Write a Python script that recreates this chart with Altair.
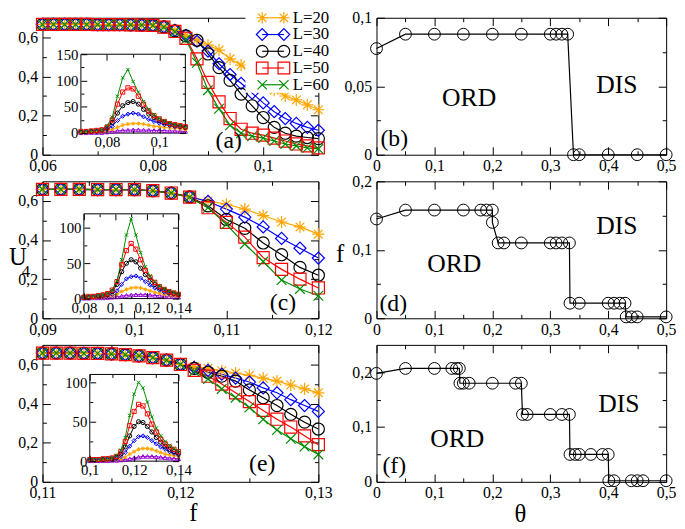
import altair as alt
import pandas as pd

FONT = "Liberation Serif"

# ---------------- series definitions ----------------
SERIES = ["L=10", "L=20", "L=30", "L=40", "L=50", "L=60"]
COLORS = ["#9400D3", "#FFA500", "#0000FF", "#000000", "#FF0000", "#008B00"]
STAR = "M-1,0L1,0M0,-1L0,1M-0.72,-0.72L0.72,0.72M-0.72,0.72L0.72,-0.72"
XMARK = "M-0.8,-0.8L0.8,0.8M-0.8,0.8L0.8,-0.8"
SHAPES = ["triangle-up", STAR, "diamond", "circle", "square", XMARK]
LEGEND_SERIES = ["L=20", "L=30", "L=40", "L=50", "L=60"]

# ---------------- panel (a): U4 vs f ----------------
A_X = [0.060, 0.062, 0.064, 0.066, 0.068, 0.070, 0.072, 0.074, 0.076, 0.078, 0.080, 0.082, 0.084,
       0.086, 0.088, 0.090, 0.092, 0.094, 0.096, 0.098, 0.100, 0.102, 0.104, 0.106, 0.108, 0.110]
A_L20 = [0.666, 0.666, 0.666, 0.666, 0.666, 0.665, 0.665, 0.665, 0.664, 0.663, 0.661, 0.655, 0.636,
         0.610, 0.588, 0.560, 0.535, 0.490, 0.458, 0.420, 0.375, 0.330, 0.300, 0.280, 0.255, 0.230]
A_L30 = [0.666, 0.666, 0.666, 0.666, 0.666, 0.665, 0.665, 0.665, 0.664, 0.663, 0.661, 0.654, 0.635,
         0.610, 0.580, 0.530, 0.465, 0.410, 0.365, 0.315, 0.265, 0.220, 0.185, 0.160, 0.140, 0.125]
A_L40 = [0.666, 0.666, 0.666, 0.666, 0.666, 0.665, 0.665, 0.665, 0.664, 0.663, 0.661, 0.653, 0.633,
         0.607, 0.585, 0.515, 0.445, 0.380, 0.310, 0.250, 0.190, 0.140, 0.110, 0.095, 0.088, 0.082]
A_L50 = [0.666, 0.666, 0.666, 0.666, 0.666, 0.665, 0.665, 0.665, 0.664, 0.663, 0.661, 0.652, 0.630,
         0.595, 0.490, 0.370, 0.270, 0.185, 0.130, 0.110, 0.100, 0.085, 0.070, 0.055, 0.045, 0.035]
A_L60 = [0.666, 0.666, 0.666, 0.666, 0.666, 0.665, 0.665, 0.665, 0.664, 0.663, 0.660, 0.652, 0.628,
         0.590, 0.470, 0.330, 0.235, 0.150, 0.110, 0.095, 0.085, 0.070, 0.055, 0.045, 0.035, 0.030]

# inset (a): susceptibility
AI_X = [0.070, 0.072, 0.074, 0.076, 0.078, 0.080, 0.082, 0.084, 0.086, 0.088, 0.090,
        0.092, 0.094, 0.096, 0.098, 0.100, 0.102, 0.104, 0.106, 0.108, 0.110]
AI_L10 = [0.5, 0.5, 1, 1, 1, 2, 3, 4, 5, 5.5, 6, 6, 5.5, 5.5, 5, 5, 4.5, 4, 4, 3.5, 3]
AI_L20 = [1, 1, 2, 2, 3, 4, 7, 11, 15, 17, 18, 18, 17, 15, 13, 12, 11, 10, 9, 8, 7]
AI_L30 = [2, 2, 3, 3, 4, 7, 13, 24, 32, 36, 38, 36, 31, 26, 22, 19, 16, 14, 12, 11, 10]
AI_L40 = [2, 3, 3, 4, 6, 10, 20, 38, 52, 58, 60, 55, 45, 36, 29, 24, 20, 17, 15, 13, 11]
AI_L50 = [3, 3, 4, 5, 6, 11, 25, 55, 78, 86, 84, 70, 55, 42, 33, 27, 22, 18, 16, 14, 12]
AI_L60 = [3, 3, 4, 5, 6, 14, 30, 70, 105, 121, 98, 78, 60, 45, 35, 28, 23, 19, 16, 14, 12]

# ---------------- panel (c) ----------------
C_X = [0.090, 0.092, 0.094, 0.096, 0.098, 0.100, 0.102, 0.104, 0.106, 0.108, 0.110, 0.112, 0.114,
       0.116, 0.118, 0.120]
C_L20 = [0.659, 0.659, 0.659, 0.658, 0.658, 0.657, 0.652, 0.641, 0.621, 0.600, 0.583, 0.558, 0.525,
         0.492, 0.467, 0.430]
C_L30 = [0.659, 0.659, 0.659, 0.658, 0.658, 0.657, 0.652, 0.641, 0.621, 0.597, 0.558, 0.517, 0.467,
         0.408, 0.358, 0.308]
C_L40 = [0.659, 0.659, 0.659, 0.658, 0.658, 0.657, 0.652, 0.640, 0.620, 0.575, 0.505, 0.460, 0.385,
         0.325, 0.260, 0.220]
C_L50 = [0.659, 0.659, 0.659, 0.658, 0.658, 0.657, 0.652, 0.640, 0.619, 0.565, 0.490, 0.415, 0.310,
         0.250, 0.200, 0.155]
C_L60 = [0.659, 0.659, 0.659, 0.658, 0.658, 0.657, 0.652, 0.640, 0.618, 0.565, 0.480, 0.380, 0.290,
         0.195, 0.150, 0.115]

CI_X = [0.080, 0.083, 0.086, 0.089, 0.092, 0.095, 0.098, 0.101, 0.104, 0.107, 0.110,
        0.113, 0.116, 0.119, 0.122, 0.125, 0.128, 0.131, 0.134, 0.137, 0.140]
CI_L10 = [0.5, 0.5, 1, 1, 1, 1.5, 2, 2.5, 3.5, 4.5, 5, 5.5, 5.5, 5.5, 5, 4.5, 4, 3.5, 3, 2.5, 2]
CI_L20 = [1, 1, 1, 2, 2, 3, 4, 6, 10, 13, 15, 15.5, 15, 13, 11, 9, 7.5, 6, 5, 4, 3.5]
CI_L30 = [1, 2, 2, 3, 3, 4, 6, 11, 20, 28, 31, 32, 29, 24, 19, 15, 12, 9, 7, 6, 5]
CI_L40 = [2, 2, 3, 4, 5, 6, 10, 20, 38, 50, 55, 52, 43, 34, 26, 20, 15, 12, 9, 7, 6]
CI_L50 = [2, 3, 3, 4, 5, 7, 12, 24, 48, 68, 78, 70, 55, 40, 30, 23, 17, 13, 10, 8, 6]
CI_L60 = [2, 3, 3, 4, 5, 7, 12, 25, 55, 90, 113, 90, 65, 45, 32, 24, 18, 14, 11, 9, 7]

# ---------------- panel (e) ----------------
E_X = [0.110, 0.111, 0.112, 0.113, 0.114, 0.115, 0.116, 0.117, 0.118, 0.119, 0.120,
       0.121, 0.122, 0.123, 0.124, 0.125, 0.126, 0.127, 0.128, 0.129, 0.130]
E_L20 = [0.658, 0.658, 0.658, 0.657, 0.656, 0.654, 0.650, 0.644, 0.635, 0.622, 0.600,
         0.590, 0.580, 0.568, 0.556, 0.544, 0.530, 0.515, 0.495, 0.475, 0.455]
E_L30 = [0.658, 0.658, 0.658, 0.657, 0.656, 0.654, 0.650, 0.644, 0.635, 0.622, 0.600,
         0.585, 0.570, 0.550, 0.530, 0.510, 0.480, 0.455, 0.420, 0.390, 0.360]
E_L40 = [0.658, 0.658, 0.658, 0.657, 0.656, 0.654, 0.650, 0.644, 0.635, 0.622, 0.600,
         0.580, 0.560, 0.540, 0.515, 0.470, 0.430, 0.390, 0.345, 0.305, 0.270]
E_L50 = [0.658, 0.658, 0.658, 0.657, 0.656, 0.654, 0.650, 0.644, 0.635, 0.622, 0.600,
         0.570, 0.540, 0.500, 0.455, 0.410, 0.365, 0.320, 0.280, 0.235, 0.190]
E_L60 = [0.658, 0.658, 0.658, 0.657, 0.656, 0.654, 0.650, 0.644, 0.635, 0.622, 0.600,
         0.565, 0.525, 0.475, 0.430, 0.380, 0.320, 0.265, 0.220, 0.180, 0.140]

EI_X = [0.100, 0.102, 0.104, 0.106, 0.108, 0.110, 0.112, 0.114, 0.116, 0.118, 0.120,
        0.122, 0.124, 0.126, 0.128, 0.130, 0.132, 0.134, 0.136, 0.138, 0.140]
EI_L10 = [0.5, 0.5, 0.5, 0.5, 0.5, 1, 1, 1.5, 2, 3, 4, 5, 6, 6, 6, 5.5, 5, 4.5, 4, 3.5, 3]
EI_L20 = [1, 1, 1, 1, 1, 2, 2, 3, 5, 9, 12, 15, 16, 16, 15, 13, 11, 9, 8, 7, 6]
EI_L30 = [1, 1, 1, 2, 2, 2, 3, 6, 11, 19, 26, 31, 32, 30, 26, 22, 18, 15, 12, 10, 8]
EI_L40 = [2, 2, 2, 2, 3, 3, 5, 9, 18, 32, 44, 50, 49, 44, 37, 30, 24, 19, 15, 12, 10]
EI_L50 = [2, 2, 2, 3, 3, 4, 6, 12, 25, 45, 63, 72, 70, 60, 47, 37, 28, 22, 18, 15, 12]
EI_L60 = [2, 2, 2, 3, 3, 4, 7, 14, 30, 58, 85, 100, 93, 75, 56, 42, 32, 25, 20, 16, 13]

# ---------------- phase diagrams (b), (d), (f) ----------------
B_THETA = [0, 0.05, 0.1, 0.15, 0.2, 0.25, 0.3, 0.31, 0.32, 0.33, 0.34, 0.35, 0.4, 0.45, 0.5]
B_F = [0.0775, 0.088, 0.088, 0.088, 0.088, 0.088, 0.088, 0.088, 0.088, 0.088, 0, 0, 0, 0, 0]

D_THETA = [0, 0.05, 0.1, 0.15, 0.18, 0.19, 0.2, 0.2, 0.21, 0.22, 0.25, 0.3, 0.31, 0.32, 0.333,
           0.334, 0.35, 0.4, 0.41, 0.42, 0.429, 0.431, 0.44, 0.45, 0.5]
D_F = [0.145, 0.158, 0.158, 0.158, 0.158, 0.158, 0.158, 0.14, 0.11, 0.11, 0.11, 0.11, 0.11, 0.11, 0.11,
       0.022, 0.022, 0.022, 0.022, 0.022, 0.022, 0.002, 0.002, 0.002, 0.002]

F_THETA = [0, 0.05, 0.1, 0.13, 0.138, 0.143, 0.144, 0.15, 0.16, 0.2, 0.24, 0.25, 0.252, 0.26, 0.3,
           0.32, 0.333, 0.334, 0.343, 0.35, 0.37, 0.39, 0.4, 0.401, 0.41, 0.44, 0.45, 0.46, 0.5]
F_F = [0.198, 0.207, 0.207, 0.207, 0.207, 0.207, 0.18, 0.18, 0.18, 0.18, 0.18, 0.18, 0.123, 0.123,
       0.123, 0.123, 0.123, 0.05, 0.05, 0.05, 0.05, 0.05, 0.05, 0.002, 0.002, 0.002, 0.002, 0.002, 0.002]


# ---------------- helpers ----------------
def long_df(xs, series):
    rows = []
    for name, ys in series.items():
        for i, (x, y) in enumerate(zip(xs, ys)):
            rows.append({"x": x, "y": y, "L": name, "i": i})
    return pd.DataFrame(rows)


ONE = pd.DataFrame({"a": [0]})
CSCALE = alt.Scale(domain=SERIES, range=COLORS)
SSCALE = alt.Scale(domain=SERIES, range=SHAPES)
LABEL_EXPR = "replace(format(datum.value, '~g'), '.', ',')"


def ax(orient, values, tick, offset, labels, fs=16, pad=3, z=0):
    return alt.Axis(orient=orient, values=values, tickSize=tick, offset=offset, labels=labels,
                    domain=False, grid=False, title=None, ticks=True, tickColor="black",
                    tickWidth=1, labelExpr=LABEL_EXPR, labelFont=FONT, labelFontSize=fs,
                    labelColor="black", labelPadding=pad, labelOverlap=False,
                    labelFlush=False, zindex=z, minExtent=0)


def axis_layers(df, xs, ys, W, H, frame, xmaj, xmin, ymaj, ymin, tmaj, tmin, fs, xpad, ypad, z=0):
    l, r, t, b = frame
    specs = [
        (ax("bottom", xmaj, tmaj, b - tmaj - H, True, fs, xpad, z),
         ax("left", ymaj, tmaj, -(l + tmaj), True, fs, ypad, z)),
        (ax("bottom", xmin, tmin, b - tmin - H, False, z=z),
         ax("left", ymin, tmin, -(l + tmin), False, z=z)),
        (ax("top", xmaj, tmaj, -(t + tmaj), False, z=z),
         ax("right", ymaj, tmaj, r - tmaj - W, False, z=z)),
        (ax("top", xmin, tmin, -(t + tmin), False, z=z),
         ax("right", ymin, tmin, r - tmin - W, False, z=z)),
    ]
    return [alt.Chart(df).mark_point(opacity=0, size=1).encode(
        x=alt.X("x:Q", scale=xs, axis=axx), y=alt.Y("y:Q", scale=ys, axis=axy))
        for axx, axy in specs]


def series_layers(df, xs, ys, size, sw):
    enc = dict(x=alt.X("x:Q", scale=xs, axis=None), y=alt.Y("y:Q", scale=ys, axis=None),
               color=alt.Color("L:N", scale=CSCALE, legend=None))
    line = alt.Chart(df).mark_line(strokeWidth=sw).encode(order="i:Q", **enc)
    pts = alt.Chart(df).mark_point(filled=False, size=size, strokeWidth=sw, opacity=1).encode(
        shape=alt.Shape("L:N", scale=SSCALE, legend=None), **enc)
    return [line, pts]


def txt(s, x, y, size, align="center"):
    return alt.Chart(ONE).mark_text(text=s, font=FONT, fontSize=size, align=align,
                                    baseline="middle", color="black").encode(
        x=alt.value(x), y=alt.value(y))


LW = 280
RW = 294
H = 139


def left_panel(main_df, xdom, xmaj, xmin, inset_df, geom, ixdom, iydom, ixmaj, ixmin,
               iymaj, iymin, extra):
    xs = alt.Scale(domain=xdom, nice=False, zero=False)
    ys = alt.Scale(domain=[0, 0.7], nice=False, zero=False)
    main = alt.layer(
        *axis_layers(main_df, xs, ys, LW, H, (0, LW, 0, H), xmaj, xmin,
                     [0, 0.2, 0.4, 0.6], [0.1, 0.3, 0.5], 8, 4, 16, 3, 5),
        *series_layers(main_df, xs, ys, 150, 1.2),
    ).resolve_axis(x="independent", y="independent")
    l, r, t, b = geom
    ixs = alt.Scale(domain=ixdom, range=[l, r], nice=False, zero=False)
    iys = alt.Scale(domain=iydom, range=[b, t], nice=False, zero=False)
    frame = alt.Chart(ONE).mark_rect(fill="white", stroke="black", strokeWidth=1).encode(
        x=alt.value(l), x2=alt.value(r), y=alt.value(t), y2=alt.value(b))
    inset = alt.layer(
        frame,
        *series_layers(inset_df, ixs, iys, 18, 1),
        *axis_layers(inset_df, ixs, iys, LW, H, geom, ixmaj, ixmin, iymaj, iymin,
                     6, 3, 15, 2, 3, z=1),
    ).resolve_axis(x="independent", y="independent")
    return alt.layer(main, inset, *extra).resolve_scale(
        x="independent", y="independent").properties(width=LW, height=H)


def right_panel(theta, f, ydom, ymaj, ymin, extra):
    df = pd.DataFrame({"x": theta, "y": f, "i": list(range(len(theta)))})
    xs = alt.Scale(domain=[0, 0.5], nice=False, zero=False)
    ys = alt.Scale(domain=ydom, nice=False, zero=False)
    enc = dict(x=alt.X("x:Q", scale=xs, axis=None), y=alt.Y("y:Q", scale=ys, axis=None))
    line = alt.Chart(df).mark_line(color="black", strokeWidth=1.2).encode(order="i:Q", **enc)
    pts = alt.Chart(df).mark_point(shape="circle", filled=False, size=144, color="black",
                                   strokeWidth=1, opacity=1).encode(**enc)
    main = alt.layer(
        *axis_layers(df, xs, ys, RW, H, (0, RW, 0, H),
                     [0, 0.1, 0.2, 0.3, 0.4, 0.5], [0.05, 0.15, 0.25, 0.35, 0.45],
                     ymaj, ymin, 8, 4, 16, 3, 5),
        line, pts,
    ).resolve_axis(x="independent", y="independent")
    return alt.layer(main, *extra).properties(width=RW, height=H)


# ---------------- legend for (a) ----------------
leg_df = pd.DataFrame({"L": LEGEND_SERIES, "row": [0, 1, 2, 3, 4]})
ly = alt.Y("row:Q", scale=alt.Scale(domain=[0, 4], range=[0, 68]), axis=None)
lcol = alt.Color("L:N", scale=CSCALE, legend=None)
lshp = alt.Shape("L:N", scale=SSCALE, legend=None)
legend = alt.layer(
    alt.Chart(ONE).mark_rect(fill="white").encode(
        x=alt.value(206), x2=alt.value(300), y=alt.value(-8), y2=alt.value(76)),
    alt.Chart(leg_df).mark_rule(strokeWidth=1.2).encode(
        x=alt.value(223), x2=alt.value(245), y=ly, color=lcol),
    alt.Chart(leg_df).mark_point(filled=False, size=140, strokeWidth=1.2, opacity=1).encode(
        x=alt.value(223), y=ly, color=lcol, shape=lshp),
    alt.Chart(leg_df).mark_point(filled=False, size=140, strokeWidth=1.2, opacity=1).encode(
        x=alt.value(245), y=ly, color=lcol, shape=lshp),
    alt.Chart(leg_df).mark_text(align="left", baseline="middle", font=FONT, fontSize=17,
                                color="black").encode(x=alt.value(254), y=ly, text="L:N"),
)

# ---------------- panels ----------------
pa = left_panel(
    long_df(A_X, {"L=20": A_L20, "L=30": A_L30, "L=40": A_L40, "L=50": A_L50, "L=60": A_L60}),
    [0.06, 0.11], [0.06, 0.08, 0.1], [0.07, 0.09],
    long_df(AI_X, {"L=10": AI_L10, "L=20": AI_L20, "L=30": AI_L30, "L=40": AI_L40,
                   "L=50": AI_L50, "L=60": AI_L60}),
    (39, 145, 37, 117), [0.07, 0.11], [0, 150], [0.08, 0.1], [0.09],
    [0, 50, 100, 150], [25, 75, 125],
    [txt("(a)", 189, 125, 24), legend],
)

pc = left_panel(
    long_df(C_X, {"L=20": C_L20, "L=30": C_L30, "L=40": C_L40, "L=50": C_L50, "L=60": C_L60}),
    [0.09, 0.12], [0.09, 0.1, 0.11, 0.12], [0.095, 0.105, 0.115],
    long_df(CI_X, {"L=10": CI_L10, "L=20": CI_L20, "L=30": CI_L30, "L=40": CI_L40,
                   "L=50": CI_L50, "L=60": CI_L60}),
    (42, 138, 33, 119), [0.08, 0.14], [0, 120], [0.08, 0.1, 0.12, 0.14], [0.09, 0.11, 0.13],
    [0, 50, 100], [25, 75],
    [txt("(c)", 244, 124, 24), txt("U", -34, 77, 25, "left"), txt("4", -21, 92, 17, "left")],
)

pe = left_panel(
    long_df(E_X, {"L=20": E_L20, "L=30": E_L30, "L=40": E_L40, "L=50": E_L50, "L=60": E_L60}),
    [0.11, 0.13], [0.11, 0.12, 0.13], [0.115, 0.125],
    long_df(EI_X, {"L=10": EI_L10, "L=20": EI_L20, "L=30": EI_L30, "L=40": EI_L40,
                   "L=50": EI_L50, "L=60": EI_L60}),
    (48, 138, 30, 118), [0.1, 0.14], [0, 110], [0.1, 0.12, 0.14], [0.11, 0.13],
    [0, 50, 100], [25, 75],
    [txt("(e)", 223, 121, 24), txt("f", 153, 171, 25)],
)

pb = right_panel(B_THETA, B_F, [0, 0.1], [0, 0.05, 0.1], [0.025, 0.075],
                 [txt("(b)", 18, 123, 24), txt("ORD", 94, 82, 26), txt("DIS", 244, 68, 26)])
pd_ = right_panel(D_THETA, D_F, [0, 0.2], [0, 0.1, 0.2], [0.05, 0.15],
                  [txt("(d)", 17, 125, 24), txt("ORD", 79, 84, 26), txt("DIS", 244, 45, 26),
                   txt("f", -37, 74, 25)])
pf = right_panel(F_THETA, F_F, [0, 0.25], [0, 0.1, 0.2], [0.05, 0.15],
                 [txt("(f)", 18, 123, 24), txt("ORD", 82, 96, 26), txt("DIS", 246, 60, 26),
                  txt("θ", 146, 172, 25)])

chart = alt.concat(
    pa, pb, pc, pd_, pe, pf, columns=2, spacing={"row": 27, "column": 59}, bounds="flush",
    padding={"left": 0, "top": -4, "right": 0, "bottom": 0},
).configure(
    style={"guide-label": {"font": FONT, "fill": "black"}}
).configure_view(
    stroke="black", strokeWidth=1
).configure_axis(
    labelFont=FONT, labelFontSize=16, labelColor="black"
).configure_text(font=FONT)

chart.save("out.html", embed_options={"renderer": "svg", "actions": False})
